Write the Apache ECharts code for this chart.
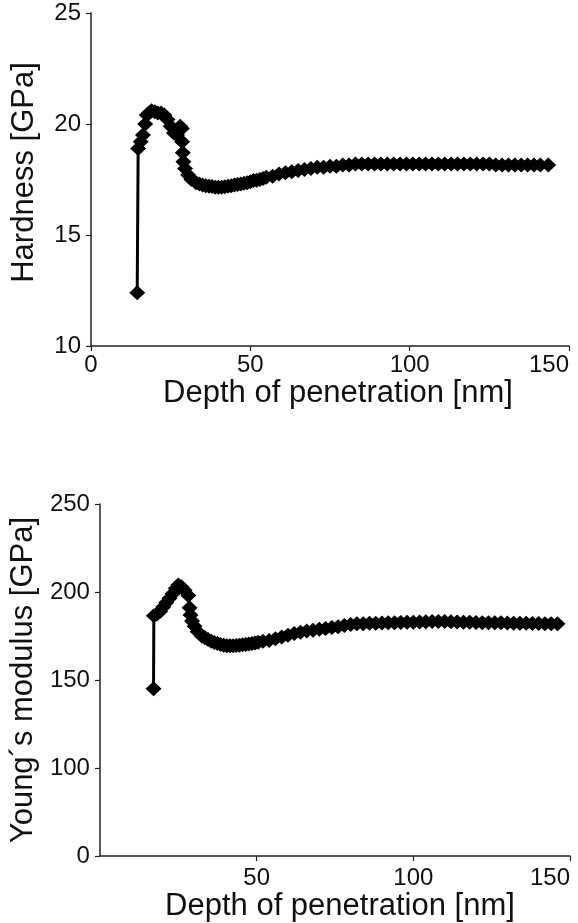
<!DOCTYPE html>
<html>
<head>
<meta charset="utf-8">
<script src="https://cdn.jsdelivr.net/npm/echarts@6/dist/echarts.min.js"></script>
<style>
html,body{margin:0;padding:0;background:#fff;}
#c{width:578px;height:923px;}
</style>
</head>
<body>
<div id="c"></div>
<script>
// ---- Data ----
const hardDepth = [14.5,14.8,15.6,16.3,17.0,17.5,18.2,19.0,20.0,21.0,22.0,23.0,24.0,25.0,26.0,27.0,28.0,28.5,28.6,28.8,29.0,29.5,30.5,31.5,33,34,35,36,37,38,39,40,41,42,43,44,45,46,47,48,49,50,51,52,53,54,55,57,59,61,63,65,67,69,71,73,75,77,79,81,83,85,87,89,91,93,95,97,99,101,103,105,107,109,111,113,115,117,119,121,123,125,127,129,131,133,135,137,139,141,143.5];
const hardValue = [12.4,18.9,19.2,19.5,20.0,20.4,20.5,20.6,20.55,20.5,20.5,20.4,20.2,19.9,19.6,19.5,19.9,19.8,19.2,18.7,18.3,18.0,17.7,17.5,17.35,17.3,17.25,17.22,17.2,17.18,17.15,17.15,17.15,17.17,17.2,17.22,17.25,17.27,17.3,17.33,17.35,17.4,17.45,17.47,17.5,17.55,17.6,17.65,17.75,17.8,17.85,17.9,17.95,18.0,18.05,18.05,18.1,18.1,18.15,18.15,18.2,18.2,18.2,18.2,18.2,18.2,18.2,18.2,18.2,18.2,18.2,18.2,18.2,18.2,18.2,18.2,18.2,18.2,18.2,18.2,18.2,18.2,18.15,18.15,18.15,18.15,18.15,18.15,18.15,18.15,18.15];

const modDepth = [17.1,17.2,18.2,19.2,20.2,21.2,22.2,23.2,24.2,25.0,26.0,27.0,28.2,28.6,28.9,29.4,30.2,31.2,32.5,33.5,34.5,35.5,36.5,37.5,38.5,39.5,40.5,41.5,42.5,43.5,44.5,45.5,46.5,47.5,48.5,49.5,50.5,52,54,56,58,60,62,64,66,68,70,72,74,76,78,80,82,84,86,88,90,92,94,96,98,100,102,104,106,108,110,112,114,116,118,120,122,124,126,128,130,132,134,136,138,140,142,144,146];
const modValue = [145,186.5,187.5,189,191.5,194,196.5,199,202,204,203,201,198,191,187,183.5,180.5,177.5,175,174,173,172,171.3,170.7,170.2,169.8,169.5,169.5,169.5,169.6,169.8,170,170.2,170.5,170.8,171.1,171.5,172,172.5,173.5,174.5,175.5,176.5,177.2,177.8,178.3,178.8,179.3,179.8,180.3,181,181.5,182,182,182.2,182.3,182.4,182.5,182.6,182.7,182.8,182.9,183,183.1,183.2,183.2,183.2,183.1,183,182.9,182.8,182.7,182.6,182.6,182.5,182.5,182.4,182.3,182.2,182.2,182.1,182.1,182,182,182];

// tick labels
const xTicks = [0, 50, 100, 150];
const hardTicks = [10, 15, 20, 25];
const modTickLabels = ['0', '100', '150', '200', '250']; // printed labels on the lower chart's y axis
const modTickValues = [50, 100, 150, 200, 250];

const FONT = "'Liberation Sans', Arial, sans-serif";
const pair = (xs, ys) => xs.map((x, i) => [x, ys[i]]);

const axisCommon = {
  axisLine: { show: true, lineStyle: { color: '#222', width: 1.5 } },
  axisTick: { show: true, length: 5, lineStyle: { color: '#222', width: 1.2 } },
  splitLine: { show: false },
};

const chart = echarts.init(document.getElementById('c'), null, { renderer: 'canvas' });
chart.setOption({
  animation: false,
  backgroundColor: '#fff',
  grid: [
    { left: 91, top: 13, width: 478, height: 333 },
    { left: 96, top: 504, width: 474, height: 354 }
  ],
  xAxis: [
    Object.assign({}, axisCommon, {
      gridIndex: 0, type: 'value', min: xTicks[0], max: xTicks[xTicks.length - 1], interval: 50,
      axisLabel: { color: '#111', fontSize: 24, fontFamily: FONT, margin: 7, alignMaxLabel: 'right' },
      name: 'Depth of penetration [nm]', nameLocation: 'middle', nameGap: 24,
      nameTextStyle: { color: '#111', fontSize: 31, fontFamily: FONT, verticalAlign: 'top', padding: [0, 0, 0, 16] }
    }),
    Object.assign({}, axisCommon, {
      gridIndex: 1, type: 'value', min: xTicks[0], max: xTicks[xTicks.length - 1], interval: 50,
      axisLabel: { color: '#111', fontSize: 24, fontFamily: FONT, margin: 10, showMinLabel: false, alignMaxLabel: 'right' },
      name: 'Depth of penetration [nm]', nameLocation: 'middle', nameGap: 27,
      nameTextStyle: { color: '#111', fontSize: 31, fontFamily: FONT, verticalAlign: 'top', padding: [0, 0, 0, 10] }
    })
  ],
  yAxis: [
    Object.assign({}, axisCommon, {
      gridIndex: 0, type: 'value', min: hardTicks[0], max: hardTicks[hardTicks.length - 1], interval: 5,
      axisLabel: { color: '#111', fontSize: 24, fontFamily: FONT, margin: 10 },
      name: 'Hardness [GPa]', nameLocation: 'middle', nameGap: 51,
      nameTextStyle: { color: '#111', fontSize: 31, fontFamily: FONT, padding: [0, 0, 0, 14] }
    }),
    Object.assign({}, axisCommon, {
      gridIndex: 1, type: 'value', min: modTickValues[0], max: modTickValues[modTickValues.length - 1], interval: 50,
      axisLabel: {
        color: '#111', fontSize: 24, fontFamily: FONT, margin: 10,
        formatter: v => { const i = modTickValues.indexOf(v); return i >= 0 ? modTickLabels[i] : ''; }
      },
      name: 'Young\u00B4s modulus [GPa]', nameLocation: 'middle', nameGap: 57,
      nameTextStyle: { color: '#111', fontSize: 31, fontFamily: FONT }
    })
  ],
  series: [
    {
      type: 'line', xAxisIndex: 0, yAxisIndex: 0,
      data: pair(hardDepth, hardValue),
      symbol: 'diamond', symbolSize: [16, 15], showAllSymbol: true,
      itemStyle: { color: '#000' }, lineStyle: { color: '#000', width: 3 }
    },
    {
      type: 'line', xAxisIndex: 1, yAxisIndex: 1,
      data: pair(modDepth, modValue),
      symbol: 'diamond', symbolSize: [16, 15], showAllSymbol: true,
      itemStyle: { color: '#000' }, lineStyle: { color: '#000', width: 3 }
    }
  ]
});
</script>
</body>
</html>
